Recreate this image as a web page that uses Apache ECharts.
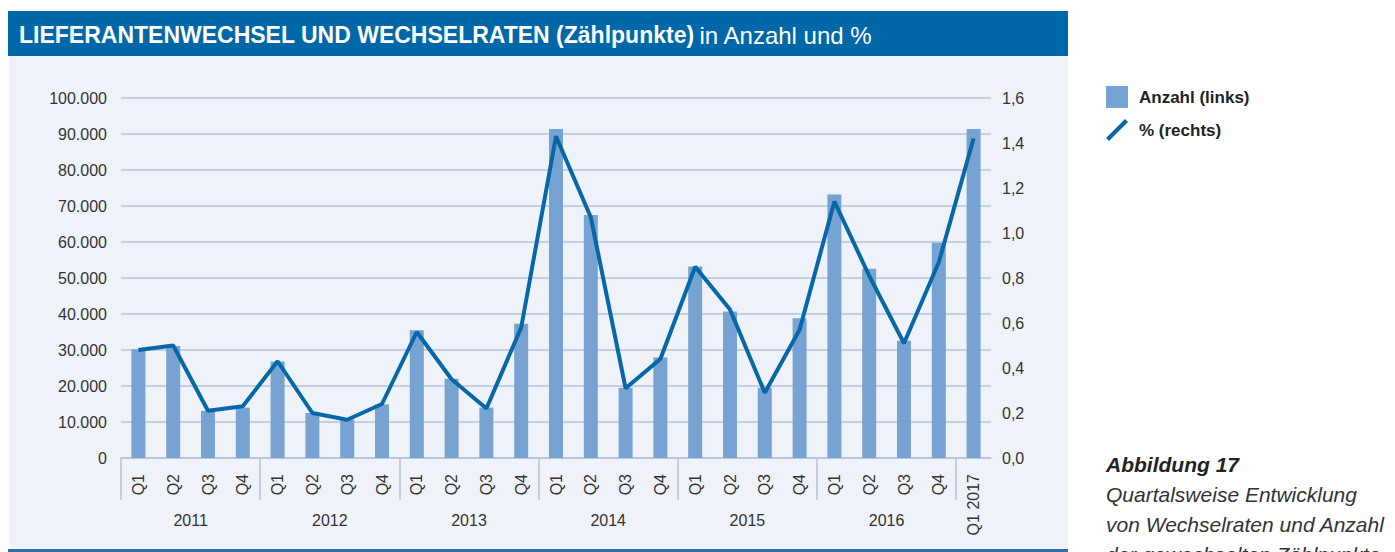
<!DOCTYPE html>
<html>
<head>
<meta charset="utf-8">
<script src="https://cdn.jsdelivr.net/npm/echarts@6/dist/echarts.min.js"></script>
<style>
  html, body { margin: 0; padding: 0; background: #fff; }
  #chart { width: 1395px; height: 552px; }
</style>
</head>
<body>
<div id="chart"></div>
<script>
// Kategorien (Quartale) und Jahre
var quartale = ['Q1', 'Q2', 'Q3', 'Q4', 'Q1', 'Q2', 'Q3', 'Q4', 'Q1', 'Q2', 'Q3', 'Q4',
  'Q1', 'Q2', 'Q3', 'Q4', 'Q1', 'Q2', 'Q3', 'Q4', 'Q1', 'Q2', 'Q3', 'Q4', 'Q1 2017']
var jahre = ['2011', '2012', '2013', '2014', '2015', '2016']

// Anzahl der Lieferantenwechsel (links)
var anzahl = [30200, 31100, 13100, 14000, 26800, 12500, 10700, 14900, 35500, 22000, 14000, 37300,
  91400, 67500, 19500, 27900, 53200, 40700, 19500, 38800, 73200, 52600, 32600, 59800, 91400]
// Wechselrate in % (rechts)
var rate = [0.48, 0.50, 0.21, 0.23, 0.43, 0.20, 0.17, 0.24, 0.56, 0.35, 0.22, 0.58,
  1.43, 1.07, 0.31, 0.44, 0.85, 0.66, 0.29, 0.57, 1.14, 0.81, 0.51, 0.87, 1.42]

// Halbjahres-Raster fuer die Jahresbeschriftung: Grenze, Jahr, Grenze, ...
var jahrSlots = ['']
jahre.forEach(function (j) { jahrSlots.push(j, '') })

var fontFam = '"Liberation Sans", Arial, sans-serif'
var axisColor = '#b5c2d8'

var chart = echarts.init(document.getElementById('chart'), null, { renderer: 'svg' })

var option = {
  backgroundColor: '#ffffff',
  textStyle: { fontFamily: fontFam },
  animation: false,
  graphic: [
    { type: 'rect', z: -100, shape: { x: 9, y: 56, width: 1059, height: 494 }, style: { fill: '#eff3f9' } },
    { type: 'rect', z: -100, shape: { x: 8, y: 11, width: 1060, height: 45 }, style: { fill: '#0067a9' } },
    { type: 'rect', z: -100, shape: { x: 8, y: 549, width: 1060, height: 3 }, style: { fill: '#2d6fa9' } },
    {
      type: 'text',
      x: 1106,
      y: 449,
      style: {
        text: '{b|Abbildung 17}\n{i|Quartalsweise Entwicklung}\n{i|von Wechselraten und Anzahl}\n{i|der gewechselten Zählpunkte}',
        rich: {
          b: { fontFamily: fontFam, fontSize: 21, fontWeight: 'bold', fontStyle: 'italic', fill: '#222', lineHeight: 30 },
          i: { fontFamily: fontFam, fontSize: 21, fontStyle: 'italic', fill: '#333', lineHeight: 30 }
        }
      }
    }
  ],
  title: {
    left: 14,
    top: 18,
    text: '{b|LIEFERANTENWECHSEL UND WECHSELRATEN (Zählpunkte)} {r|in Anzahl und %}',
    textStyle: {
      rich: {
        b: { fontFamily: fontFam, fontSize: 23, fontWeight: 'bold', color: '#fff' },
        r: { fontFamily: fontFam, fontSize: 24, fontWeight: 'normal', color: '#fff' }
      }
    }
  },
  legend: {
    orient: 'vertical',
    left: 1106,
    top: 86,
    padding: 0,
    itemWidth: 22,
    itemHeight: 22,
    itemGap: 11,
    textStyle: { fontFamily: fontFam, fontSize: 17, fontWeight: 'bold', color: '#222', padding: [0, 0, 0, 6] },
    data: [
      { name: 'Anzahl (links)', icon: 'rect' },
      { name: '% (rechts)', icon: 'path://M0,19 L19,0 L22,3 L3,22 Z' }
    ]
  },
  grid: [
    { left: 121, right: 404, top: 98, bottom: 94 },
    { left: 121, right: 438.8, top: 98, bottom: 94 }
  ],
  xAxis: [
    {
      type: 'category',
      gridIndex: 0,
      data: quartale,
      axisLine: { lineStyle: { color: axisColor, width: 1.5 } },
      axisTick: { interval: 0, length: 6, lineStyle: { color: axisColor, width: 1.5 } },
      axisLabel: { interval: 0, rotate: 90, margin: 16, fontSize: 16, color: '#333' }
    },
    {
      type: 'category',
      gridIndex: 1,
      data: jahrSlots,
      boundaryGap: false,
      axisLine: { show: false, onZero: false },
      axisTick: {
        interval: function (i) { return i % 2 === 0 },
        length: 42,
        lineStyle: { color: axisColor, width: 1.5 }
      },
      axisLabel: {
        interval: function (i) { return i % 2 === 1 },
        margin: 54,
        fontSize: 16,
        color: '#333'
      }
    }
  ],
  yAxis: [
    {
      type: 'value',
      gridIndex: 0,
      min: 0,
      max: 100000,
      interval: 10000,
      axisLine: { show: false },
      axisTick: { show: false },
      axisLabel: {
        margin: 14,
        fontSize: 16,
        color: '#333',
        formatter: function (v) { return v.toLocaleString('de-DE') }
      },
      splitLine: { lineStyle: { color: '#b7c3da', width: 1.5 } }
    },
    {
      type: 'value',
      gridIndex: 0,
      min: 0,
      max: 1.6,
      interval: 0.2,
      position: 'right',
      axisLine: { show: false },
      axisTick: { show: false },
      axisLabel: {
        margin: 11,
        fontSize: 16,
        color: '#333',
        formatter: function (v) { return v.toFixed(1).replace('.', ',') }
      },
      splitLine: { show: false }
    },
    { type: 'value', gridIndex: 1, show: false }
  ],
  series: [
    {
      name: 'Anzahl (links)',
      type: 'bar',
      xAxisIndex: 0,
      yAxisIndex: 0,
      barWidth: 14,
      itemStyle: { color: '#76a3d1' },
      data: anzahl
    },
    {
      name: '% (rechts)',
      type: 'line',
      xAxisIndex: 0,
      yAxisIndex: 1,
      symbol: 'none',
      lineStyle: { color: '#0867a9', width: 4 },
      itemStyle: { color: '#0867a9' },
      data: rate
    }
  ]
}

chart.setOption(option)
</script>
</body>
</html>
